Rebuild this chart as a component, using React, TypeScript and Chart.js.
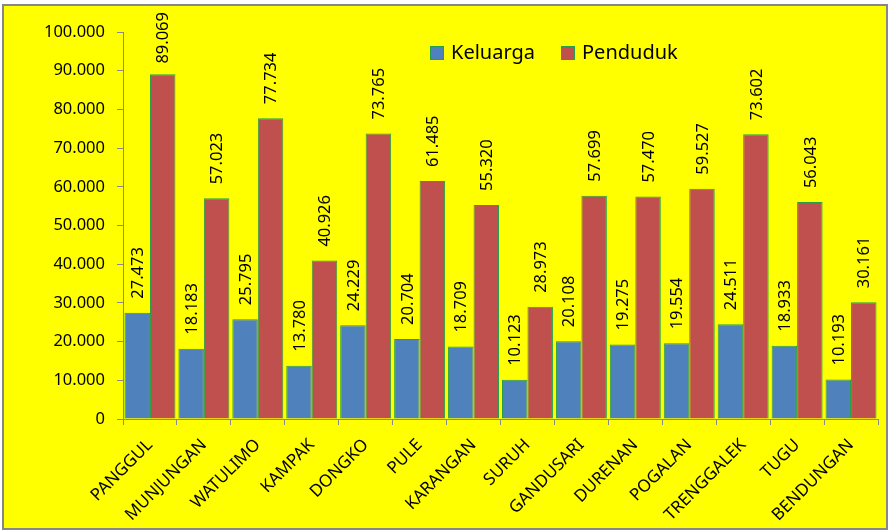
import React, { useEffect, useRef } from "react";
import { Chart, registerables } from "chart.js";

Chart.register(...registerables);

const categories = [
  "PANGGUL", "MUNJUNGAN", "WATULIMO", "KAMPAK", "DONGKO", "PULE", "KARANGAN",
  "SURUH", "GANDUSARI", "DURENAN", "POGALAN", "TRENGGALEK", "TUGU", "BENDUNGAN",
];
const keluarga = [27473, 18183, 25795, 13780, 24229, 20704, 18709, 10123, 20108, 19275, 19554, 24511, 18933, 10193];
const penduduk = [89069, 57023, 77734, 40926, 73765, 61485, 55320, 28973, 57699, 57470, 59527, 73602, 56043, 30161];
const seriesNames = ["Keluarga", "Penduduk"];
const yMax = 100000;
const yStep = 10000;

const FONT = "'Noto Sans', sans-serif";
const fmt = (v: number) => String(Math.round(v)).replace(/\B(?=(\d{3})+(?!\d))/g, ".");

const labelPlugin = {
  id: "valueLabels",
  afterDatasetsDraw(chart: any) {
    const ctx = chart.ctx;
    ctx.save();
    ctx.font = `16.5px ${FONT}`;
    ctx.fillStyle = "#000";
    chart.data.datasets.forEach((ds: any, di: number) => {
      const meta = chart.getDatasetMeta(di);
      meta.data.forEach((bar: any, i: number) => {
        const txt = fmt(ds.data[i]);
        const w = ctx.measureText(txt).width;
        let start = bar.y - 14;
        if (start - w < 6) start = 6 + w;
        ctx.save();
        ctx.translate(bar.x, start);
        ctx.rotate(-Math.PI / 2);
        ctx.textAlign = "left";
        ctx.textBaseline = "middle";
        ctx.fillText(txt, 0, 1);
        ctx.restore();
      });
    });
    ctx.restore();
  },
};

const legendPlugin = {
  id: "customLegend",
  afterDraw(chart: any) {
    const ctx = chart.ctx;
    ctx.save();
    ctx.font = `20px ${FONT}`;
    ctx.textBaseline = "middle";
    const items = [
      { x: 426, text: seriesNames[0], color: "#4F81BD" },
      { x: 557, text: seriesNames[1], color: "#C0504D" },
    ];
    const cy = 47;
    items.forEach((it) => {
      ctx.fillStyle = it.color;
      ctx.fillRect(it.x, cy - 7, 14, 14);
      ctx.strokeStyle = "#22A04B";
      ctx.lineWidth = 1;
      ctx.strokeRect(it.x + 0.5, cy - 6.5, 13, 13);
      ctx.fillStyle = "#000";
      ctx.fillText(it.text, it.x + 21, cy);
    });
    ctx.restore();
  },
};

export default function App() {
  const ref = useRef<HTMLCanvasElement>(null);
  useEffect(() => {
    if (!ref.current) return;
    const chart = new Chart(ref.current, {
      type: "bar",
      data: {
        labels: categories,
        datasets: [
          { label: seriesNames[0], data: keluarga, backgroundColor: "#4F81BD", borderColor: "#22A04B", borderWidth: 1 },
          { label: seriesNames[1], data: penduduk, backgroundColor: "#C0504D", borderColor: "#22A04B", borderWidth: 1 },
        ],
      },
      options: {
        animation: false,
        responsive: false,
        maintainAspectRatio: false,
        layout: { padding: { top: 26, right: 8, left: 0, bottom: 0 } },
        plugins: { legend: { display: false }, title: { display: false }, tooltip: { enabled: false } },
        datasets: { bar: { categoryPercentage: 0.945, barPercentage: 1.0 } },
        scales: {
          x: {
            grid: { drawOnChartArea: false, drawTicks: true, tickLength: 6, color: "#898989", offset: true },
            border: { color: "#898989", width: 1 },
            ticks: {
              autoSkip: false, maxRotation: 45, minRotation: 45, padding: 10,
              color: "#000", font: { family: FONT, size: 17 },
            },
            afterFit: (s: any) => { s.height = 109; },
          },
          y: {
            min: 0, max: yMax,
            grid: { drawOnChartArea: false, drawTicks: true, tickLength: 6, color: "#898989" },
            border: { color: "#898989", width: 1 },
            ticks: {
              stepSize: yStep, padding: 12, color: "#000",
              font: { family: FONT, size: 16.5 },
              callback: (v: any) => fmt(Number(v)),
            },
            afterFit: (s: any) => { s.width = 119; },
          },
        },
      },
      plugins: [labelPlugin, legendPlugin],
    });
    return () => chart.destroy();
  }, []);

  return (
    <div style={{ position: "fixed", left: 0, top: 0, width: 890, height: 531, background: "#fff" }}>
      <div
        style={{
          position: "absolute", left: 2, top: 4, width: 882, height: 522,
          border: "2px solid #878787", background: "#FFFF00",
        }}
      >
        <canvas ref={ref} width={882} height={522} style={{ display: "block", width: 882, height: 522 }} />
      </div>
    </div>
  );
}
